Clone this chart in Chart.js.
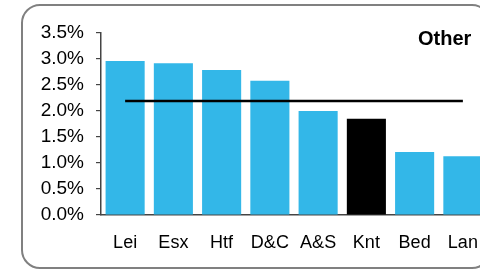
<!DOCTYPE html>
<html>
<head>
<meta charset="utf-8">
<script src="https://cdn.jsdelivr.net/npm/chart.js@4/dist/chart.umd.min.js"></script>
<style>
html,body{margin:0;padding:0;background:#fff;overflow:hidden;width:480px;height:270px;}
canvas{display:block;}
</style>
</head>
<body>
<canvas id="c" width="500" height="270"></canvas>
<script>
const categories = ["Lei", "Esx", "Htf", "D&C", "A&S", "Knt", "Bed", "Lan"];
const shares = [2.96, 2.92, 2.79, 2.58, 2.00, 1.85, 1.21, 1.13];
const average = [2.19, 2.19, 2.19, 2.19, 2.19, 2.19, 2.19, 2.19];
const highlight = "Knt";
const yTicks = [0, 0.5, 1.0, 1.5, 2.0, 2.5, 3.0, 3.5];
const panelTitle = "Other";

const FONT = "'Liberation Sans', Arial, sans-serif";

const framePlugin = {
  id: 'frame',
  beforeDraw(chart) {
    const ctx = chart.ctx;
    ctx.save();
    ctx.fillStyle = '#fff';
    ctx.fillRect(0, 0, chart.width, chart.height);
    const x = 22, y = 5, w = 468, h = 263, r = 18;
    ctx.beginPath();
    ctx.moveTo(x + r, y);
    ctx.lineTo(x + w - r, y);
    ctx.arcTo(x + w, y, x + w, y + r, r);
    ctx.lineTo(x + w, y + h - r);
    ctx.arcTo(x + w, y + h, x + w - r, y + h, r);
    ctx.lineTo(x + r, y + h);
    ctx.arcTo(x, y + h, x, y + h - r, r);
    ctx.lineTo(x, y + r);
    ctx.arcTo(x, y, x + r, y, r);
    ctx.closePath();
    ctx.lineWidth = 2;
    ctx.strokeStyle = '#808080';
    ctx.stroke();
    ctx.restore();
  },
  afterDraw(chart) {
    const ctx = chart.ctx;
    ctx.save();
    ctx.font = "bold 20px " + FONT;
    ctx.fillStyle = '#000';
    ctx.textAlign = 'left';
    ctx.textBaseline = 'middle';
    ctx.fillText(panelTitle, 418, 39);
    ctx.restore();
  }
};

new Chart(document.getElementById('c'), {
  data: {
    labels: categories,
    datasets: [
      {
        type: 'line',
        data: average,
        borderColor: '#000',
        borderWidth: 2.5,
        pointRadius: 0,
        fill: false,
        order: 0
      },
      {
        type: 'bar',
        data: shares,
        backgroundColor: categories.map(c => c === highlight ? '#000000' : '#33B7E8'),
        borderWidth: 0,
        categoryPercentage: 1.0,
        barPercentage: 0.81,
        order: 1
      }
    ]
  },
  options: {
    responsive: false,
    animation: false,
    layout: { padding: { left: 0, right: 13, top: 33, bottom: 0 } },
    plugins: { legend: { display: false }, tooltip: { enabled: false }, title: { display: false } },
    scales: {
      x: {
        grid: { display: true, drawOnChartArea: false, drawTicks: false },
        border: { display: true, color: '#444', width: 1.5 },
        ticks: { color: '#000', font: { family: FONT, size: 18 }, padding: 17, maxRotation: 0, autoSkip: false },
        afterFit(s) { s.height = 55; }
      },
      y: {
        min: 0,
        max: 3.5,
        afterBuildTicks(s) { s.ticks = yTicks.map(v => ({ value: v })); },
        grid: { display: true, drawOnChartArea: false, drawTicks: true, tickLength: 5, color: '#444', lineWidth: 1.2 },
        border: { display: true, color: '#444', width: 1.5 },
        ticks: {
          color: '#000',
          font: { family: FONT, size: 19 },
          padding: 12,
          callback: v => Number(v).toFixed(1) + '%'
        },
        afterFit(s) { s.width = 101; }
      }
    }
  },
  plugins: [framePlugin]
});
</script>
</body>
</html>
